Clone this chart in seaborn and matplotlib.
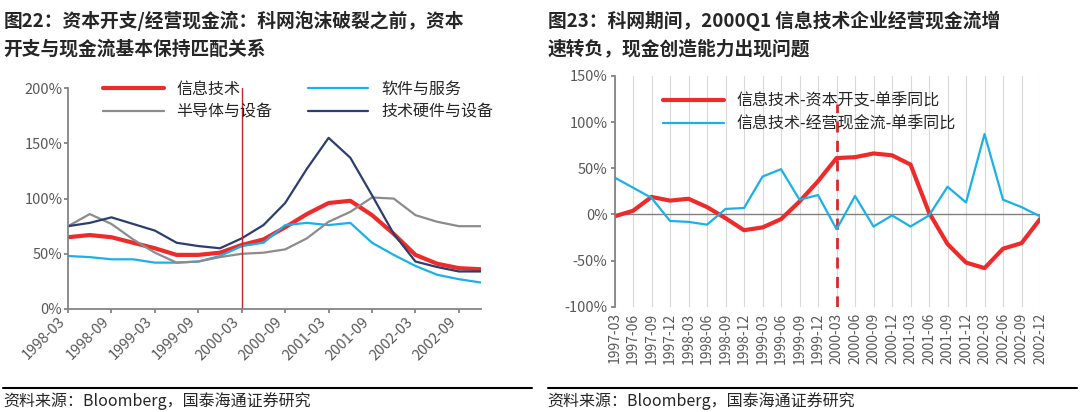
import matplotlib
matplotlib.use("Agg")
import matplotlib.pyplot as plt
import pandas as pd
import seaborn as sns

# left chart data
left_dates = ["1998-03", "1998-06", "1998-09", "1998-12", "1999-03", "1999-06", "1999-09", "1999-12",
              "2000-03", "2000-06", "2000-09", "2000-12", "2001-03", "2001-06", "2001-09", "2001-12",
              "2002-03", "2002-06", "2002-09", "2002-12"]
it_total = [65, 67, 65, 60, 55, 49, 49, 51, 58, 63, 74, 86, 96, 98, 85, 68, 49, 41, 37, 36]
software = [48, 47, 45, 45, 42, 42, 43, 48, 57, 60, 76, 78, 76, 78, 60, 49, 39, 31, 27, 24]
semis = [75, 86, 77, 63, 51, 42, 43, 47, 50, 51, 54, 64, 79, 88, 101, 100, 85, 79, 75, 75]
hardware = [75, 78, 83, 77, 71, 60, 57, 55, 64, 76, 96, 127, 155, 137, 103, 68, 43, 38, 34, 34]

# right chart data
right_dates = ["1997-03", "1997-06", "1997-09", "1997-12", "1998-03", "1998-06", "1998-09", "1998-12",
               "1999-03", "1999-06", "1999-09", "1999-12", "2000-03", "2000-06", "2000-09", "2000-12",
               "2001-03", "2001-06", "2001-09", "2001-12", "2002-03", "2002-06", "2002-09", "2002-12"]
capex_yoy = [-2, 4, 19, 15, 17, 8, -4, -17, -14, -5, 14, 36, 61, 62, 66, 64, 54, 2, -32, -52, -58, -37, -31, -5]
cf_yoy = [40, 29, 18, -7, -8, -11, 6, 7, 41, 49, 16, 21, -16, 20, -13, -1, -13, -1, 30, 13, 87, 16, 8, -2]

sns.set_theme(style="white")
plt.rcParams["font.family"] = ["Noto Sans CJK SC", "DejaVu Sans"]
plt.rcParams["axes.unicode_minus"] = False

fig = plt.figure(figsize=(10.8, 4.12), dpi=100)
tick_color = "#595959"

# ---- left panel ----
ax1 = fig.add_axes([0.063, 0.25, 0.382, 0.536])
ldf = pd.DataFrame({"x": range(len(left_dates)), "信息技术": it_total, "软件与服务": software,
                    "半导体与设备": semis, "技术硬件与设备": hardware})
lmelt = ldf.melt(id_vars="x", var_name="series", value_name="val")
lorder = ["信息技术", "软件与服务", "半导体与设备", "技术硬件与设备"]
lpal = {"信息技术": "#ee2a2a", "软件与服务": "#1ab0e8", "半导体与设备": "#8c8c8c", "技术硬件与设备": "#2b3e6e"}
lw = {"信息技术": 3, "软件与服务": 1.6, "半导体与设备": 1.6, "技术硬件与设备": 1.6}
for name in lorder:
    sub = lmelt[lmelt["series"] == name]
    sns.lineplot(data=sub, x="x", y="val", color=lpal[name], linewidth=lw[name], label=name, ax=ax1)
ax1.axvline(8, color="#c0282d", linewidth=1)
ax1.set_xlim(0, 19)
ax1.set_ylim(0, 200)
ax1.set_yticks([0, 50, 100, 150, 200])
ax1.set_yticklabels([f"{v}%" for v in [0, 50, 100, 150, 200]], fontsize=10.5, color=tick_color)
ax1.set_xticks(range(0, 20, 2))
ax1.set_xticklabels(left_dates[::2], rotation=45, ha="right", fontsize=10.5, color=tick_color)
ax1.tick_params(axis="both", length=3, color="#808080", direction="out", bottom=True, left=True, pad=1)
ax1.set_xlabel("")
ax1.set_ylabel("")
for s in ["top", "right"]:
    ax1.spines[s].set_visible(False)
for s in ["left", "bottom"]:
    ax1.spines[s].set_color("#808080")
# row-wise legend order: 信息技术 | 软件与服务 / 半导体与设备 | 技术硬件与设备
h, l = ax1.get_legend_handles_labels()
idx = [0, 2, 1, 3]
ax1.legend([h[i] for i in idx], [l[i] for i in idx], ncol=2, frameon=False, fontsize=11.5,
           loc="upper left", bbox_to_anchor=(0.05, 1.1), handlelength=3.8, columnspacing=2.2,
           labelspacing=0.4)

# ---- right panel ----
ax2 = fig.add_axes([0.569, 0.255, 0.394, 0.561])
rdf = pd.DataFrame({"x": list(range(len(right_dates))) * 2,
                    "val": capex_yoy + cf_yoy,
                    "series": ["信息技术-资本开支-单季同比"] * len(right_dates) + ["信息技术-经营现金流-单季同比"] * len(right_dates)})
for i in range(len(right_dates)):
    ax2.axvline(i, color="#d9d9d9", linewidth=0.8, zorder=0)
ax2.axhline(0, color="#808080", linewidth=1, zorder=1)
ax2.axvline(12, color="#d62a2a", linewidth=2, linestyle=(0, (4, 3)), ymax=0.88, zorder=1.5)
sns.lineplot(data=rdf, x="x", y="val", hue="series",
             palette=["#ee2a2a", "#1ab0e8"], size="series", sizes=[3, 1.6], ax=ax2)
ax2.set_xlim(0, 23)
ax2.set_ylim(-100, 150)
yt = [-100, -50, 0, 50, 100, 150]
ax2.set_yticks(yt)
ax2.set_yticklabels([f"{v}%" for v in yt], fontsize=10.5, color=tick_color)
ax2.set_xticks(range(len(right_dates)))
ax2.set_xticklabels(right_dates, rotation=90, fontsize=10, color=tick_color)
ax2.tick_params(axis="both", length=3, color="#808080", left=True, pad=2)
ax2.tick_params(axis="x", length=0, pad=4)
ax2.set_xlabel("")
ax2.set_ylabel("")
for s in ["top", "right", "bottom"]:
    ax2.spines[s].set_visible(False)
ax2.spines["left"].set_color("#808080")
ax2.legend(frameon=False, fontsize=11.5, loc="upper left", bbox_to_anchor=(0.08, 0.99),
           handlelength=3.8, labelspacing=0.4)

# ---- titles and footers ----
fig.text(0.003, 0.975, "图22：资本开支/经营现金流：科网泡沫破裂之前，资本", fontsize=13.5, fontweight="bold", va="top")
fig.text(0.003, 0.905, "开支与现金流基本保持匹配关系", fontsize=13.5, fontweight="bold", va="top")
fig.text(0.507, 0.975, "图23：科网期间，2000Q1 信息技术企业经营现金流增", fontsize=13.5, fontweight="bold", va="top")
fig.text(0.507, 0.905, "速转负，现金创造能力出现问题", fontsize=13.5, fontweight="bold", va="top")
fig.add_artist(plt.Line2D([0.003, 0.493], [0.058, 0.058], color="black", linewidth=1.5))
fig.add_artist(plt.Line2D([0.507, 0.997], [0.058, 0.058], color="black", linewidth=1.5))
fig.text(0.003, 0.005, "资料来源：Bloomberg，国泰海通证券研究", fontsize=11.5, va="bottom")
fig.text(0.507, 0.005, "资料来源：Bloomberg，国泰海通证券研究", fontsize=11.5, va="bottom")

fig.savefig("out.png", dpi=100)
